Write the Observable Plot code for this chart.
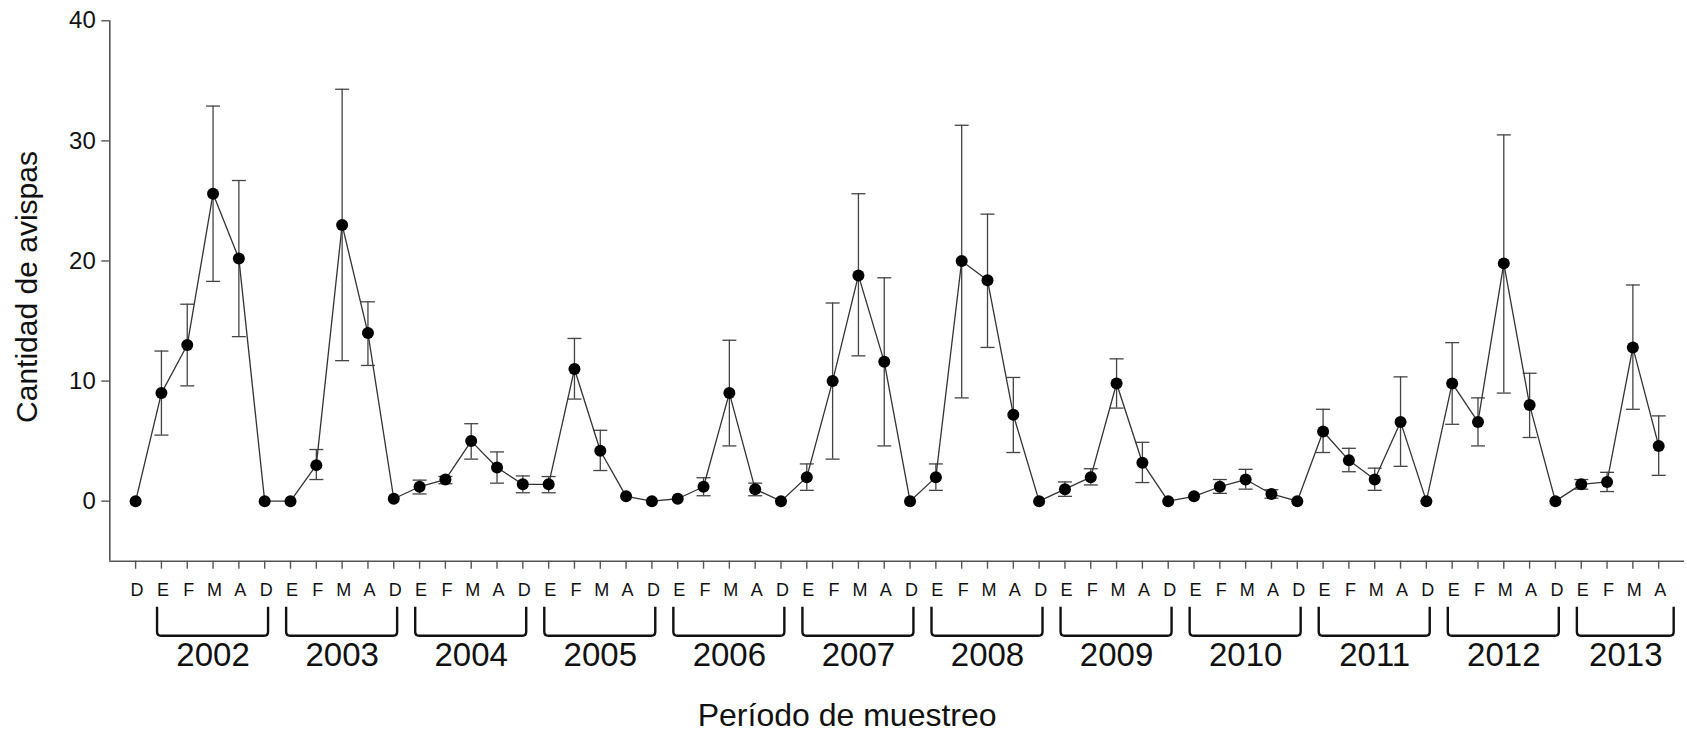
<!DOCTYPE html>
<html>
<head>
<meta charset="utf-8">
<script src="https://cdn.jsdelivr.net/npm/d3@7"></script>
<script src="https://cdn.jsdelivr.net/npm/@observablehq/plot@0.6"></script>
<style>
  html, body { margin: 0; padding: 0; background: #fff; }
  body { width: 1687px; height: 737px; overflow: hidden; }
</style>
</head>
<body>
<div id="chart"></div>
<script>
// Month letters for each sampling point (Diciembre 2001, then E F M A D per year, 2013 up to A)
const months = [
  "D",
  "E","F","M","A","D",
  "E","F","M","A","D",
  "E","F","M","A","D",
  "E","F","M","A","D",
  "E","F","M","A","D",
  "E","F","M","A","D",
  "E","F","M","A","D",
  "E","F","M","A","D",
  "E","F","M","A","D",
  "E","F","M","A","D",
  "E","F","M","A","D",
  "E","F","M","A"
];

// Mean number of wasps
const means = [
  0,
  9.0, 13.0, 25.6, 20.2, 0,
  0, 3.0, 23.0, 14.0, 0.2,
  1.2, 1.8, 5.0, 2.8, 1.4,
  1.4, 11.0, 4.2, 0.4, 0.0,
  0.2, 1.2, 9.0, 1.0, 0,
  2.0, 10.0, 18.8, 11.6, 0,
  2.0, 20.0, 18.4, 7.2, 0,
  1.0, 2.0, 9.8, 3.2, 0,
  0.4, 1.2, 1.8, 0.6, 0,
  5.8, 3.4, 1.8, 6.6, 0,
  9.8, 6.6, 19.8, 8.0, 0,
  1.4, 1.6, 12.8, 4.6
];

// Upper end of the error bar (null = no bar)
const upper = [
  null,
  12.5, 16.4, 32.9, 26.7, null,
  null, 4.3, 34.3, 16.6, null,
  1.75, 2.05, 6.45, 4.1, 2.1,
  2.05, 13.55, 5.9, null, null,
  null, 1.95, 13.4, 1.5, null,
  3.1, 16.5, 25.6, 18.6, null,
  3.1, 31.3, 23.9, 10.3, null,
  1.6, 2.7, 11.85, 4.9, null,
  null, 1.8, 2.65, 0.95, null,
  7.65, 4.4, 2.75, 10.35, null,
  13.2, 8.6, 30.5, 10.65, null,
  1.8, 2.4, 18.0, 7.1
];

// Lower end of the error bar (null = no bar)
const lower = [
  null,
  5.5, 9.6, 18.3, 13.7, null,
  null, 1.8, 11.7, 11.3, null,
  0.6, 1.45, 3.5, 1.5, 0.7,
  0.7, 8.5, 2.55, null, null,
  null, 0.45, 4.6, 0.45, null,
  0.9, 3.5, 12.1, 4.6, null,
  0.9, 8.6, 12.8, 4.05, null,
  0.4, 1.35, 7.75, 1.55, null,
  null, 0.65, 1.0, 0.25, null,
  4.05, 2.45, 0.9, 2.9, null,
  6.4, 4.6, 9.0, 5.3, null,
  1.0, 0.8, 7.65, 2.15
];

const years = [2002, 2003, 2004, 2005, 2006, 2007, 2008, 2009, 2010, 2011, 2012, 2013];
const yTicks = [0, 10, 20, 30, 40];

const yTitle = "Cantidad de avispas";
const xTitle = "Período de muestreo";

// ---- build tables ----
const data = means.map((m, i) => ({ i, m, hi: upper[i], lo: lower[i], label: months[i] }));
const bars = data.filter(d => d.hi != null);

// year groups: each year starts at an "E" and runs to the next "D" (or last point)
const spans = [];
{
  let k = 0;
  for (let i = 0; i < months.length; i++) {
    if (months[i] === "E") {
      let j = i;
      while (j + 1 < months.length && months[j + 1] !== "E") j++;
      const complete = months[j] === "D";
      spans.push({ year: years[k++], x1: i - 0.15, x2: complete ? j + 0.15 : j + 0.6 });
      i = j;
    }
  }
}
spans.forEach(s => s.xc = (s.x1 + s.x2) / 2);

// horizontal cap symbol for error bars
const capSymbol = {
  draw(ctx, size) {
    const w = Math.sqrt(size / Math.PI);
    ctx.moveTo(-w, 0);
    ctx.lineTo(w, 0);
  }
};

const FONT = "'Liberation Sans', Arial, Helvetica, sans-serif";
const W = 1687, H = 737;
const mL = 109.3, mR = 3, mT = 20.3, mB = 176.3;

// bracket renderer (annotation under the axis)
function brackets(index, scales, values, dimensions) {
  const g = d3.create("svg:g");
  const yb = dimensions.height - dimensions.marginBottom;
  const top = yb + 46, bot = yb + 75, r = 4;
  for (const s of spans) {
    const x1 = scales.x(s.x1), x2 = scales.x(s.x2);
    g.append("path")
      .attr("d", `M${x1},${top}V${bot - r}Q${x1},${bot} ${x1 + r},${bot}H${x2 - r}Q${x2},${bot} ${x2},${bot - r}V${top}`)
      .attr("fill", "none")
      .attr("stroke", "#111")
      .attr("stroke-width", 2.4)
      .attr("stroke-linejoin", "round");
  }
  return g.node();
}

const chart = Plot.plot({
  width: W,
  height: H,
  marginLeft: mL,
  marginRight: mR,
  marginTop: mT,
  marginBottom: mB,
  style: { fontFamily: FONT, background: "#fff", color: "#111", overflow: "visible" },
  x: { domain: [-1, months.length], axis: null },
  y: { domain: [-5, 40], axis: null },
  marks: [
    // axis lines
    Plot.ruleX([-1], { y1: -5, y2: 40, stroke: "#555", strokeWidth: 1.6 }),
    Plot.ruleY([-5], { x1: -1, x2: months.length, stroke: "#555", strokeWidth: 1.6 }),
    // y axis
    Plot.axisY({
      ticks: yTicks, tickSize: 8, tickPadding: 6, fontSize: 24, label: null,
      stroke: "#555", strokeWidth: 1.4, fill: "#111"
    }),
    // x axis ticks
    Plot.axisX({
      ticks: d3.range(months.length), tickSize: 8, tickFormat: () => "", label: null,
      stroke: "#555", strokeWidth: 1.4
    }),
    // month letters
    Plot.text(data, {
      x: "i", text: "label", frameAnchor: "bottom", dy: 29.5, dx: 1.5,
      fontSize: 18, fill: "#111", lineAnchor: "middle"
    }),
    // brackets + year labels
    brackets,
    Plot.text(spans, {
      x: "xc", text: d => String(d.year), frameAnchor: "bottom", dy: 94.5,
      fontSize: 33, fill: "#111", lineAnchor: "middle"
    }),
    // titles
    Plot.text([xTitle], {
      frameAnchor: "bottom", dx: -50, dy: 155, fontSize: 32, fill: "#111", lineAnchor: "middle"
    }),
    Plot.text([yTitle], {
      frameAnchor: "left", textAnchor: "middle", dx: -82, dy: -4, rotate: -90,
      fontSize: 30, fill: "#111", lineAnchor: "middle"
    }),
    // error bars
    Plot.ruleX(bars, { x: "i", y1: "lo", y2: "hi", stroke: "#444", strokeWidth: 1.3 }),
    Plot.dot(bars, { x: "i", y: "hi", symbol: capSymbol, r: 7, stroke: "#444", strokeWidth: 1.3, fill: "none" }),
    Plot.dot(bars, { x: "i", y: "lo", symbol: capSymbol, r: 7, stroke: "#444", strokeWidth: 1.3, fill: "none" }),
    // line + points
    Plot.line(data, { x: "i", y: "m", stroke: "#333", strokeWidth: 1.3 }),
    Plot.dot(data, { x: "i", y: "m", r: 6, fill: "#000", stroke: "none" })
  ]
});

document.getElementById("chart").appendChild(chart);
</script>
</body>
</html>
